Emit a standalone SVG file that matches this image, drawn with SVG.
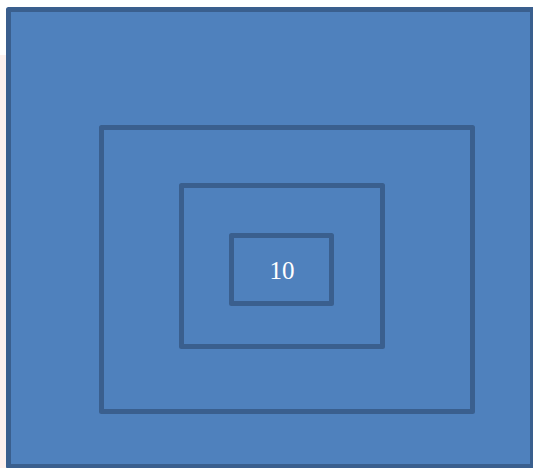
<svg xmlns="http://www.w3.org/2000/svg" width="533" height="468" viewBox="0 0 533 468">
<style>
.box{fill:#4F81BD;stroke:#3A5F8E;stroke-width:5;stroke-linejoin:round}
.lbl{font-family:"Liberation Serif",serif;font-size:25px;fill:#ffffff;text-anchor:middle}
</style>
<rect x="0" y="0" width="533" height="468" fill="#ffffff"/>
<rect x="0" y="55" width="6" height="413" fill="#fdf1ee"/>
<g id="outer"><rect class="box" x="8.5" y="9.5" width="524" height="457" stroke-width="4"/></g>
<g id="box2"><rect class="box" x="101.5" y="127.5" width="371" height="284"/></g>
<g id="box3"><rect class="box" x="181.5" y="185.5" width="201" height="161"/></g>
<g id="box4"><rect class="box" x="231.5" y="235.5" width="100" height="68"/>
<text class="lbl" x="282" y="279">10</text></g>
<g id="connectors"/>
</svg>
